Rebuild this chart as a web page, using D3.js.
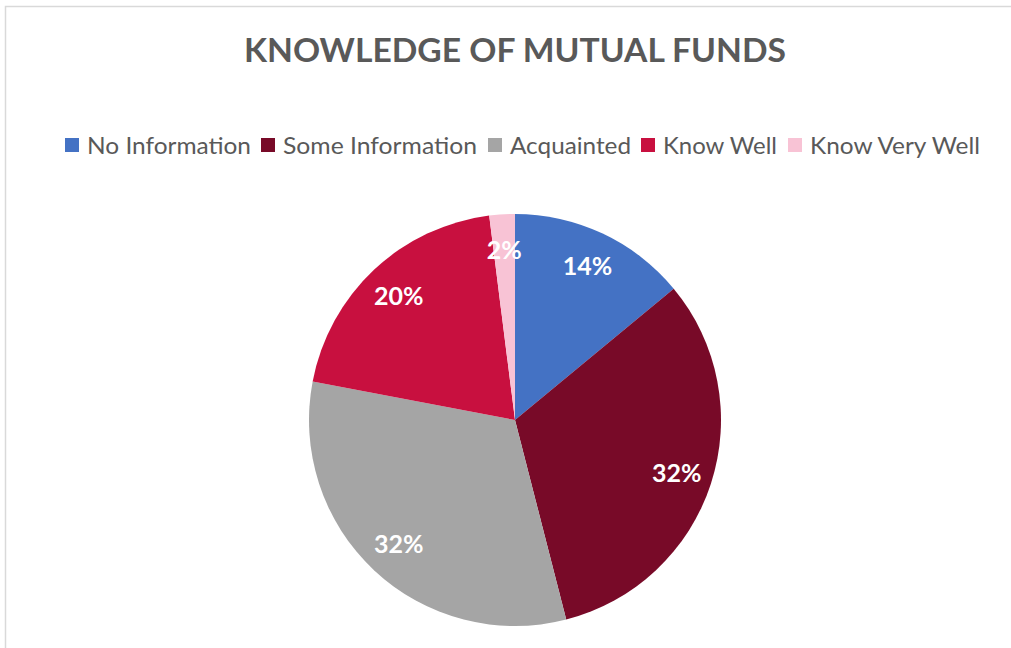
<!DOCTYPE html>
<html><head><meta charset="utf-8">
<script src="https://cdn.jsdelivr.net/npm/d3@7"></script>
<style>body{margin:0;background:#fff;} svg{display:block;}</style>
</head><body>
<script>
const title = "KNOWLEDGE OF MUTUAL FUNDS";
const categories = ["No Information","Some Information","Acquainted","Know Well","Know Very Well"];
const values = [14, 32, 32, 20, 2];
const colors = ["#4472C4","#780A28","#A5A5A5","#C8103F","#F8C3D5"];

const W = 1011, H = 648;
const svg = d3.select("body").append("svg").attr("width", W).attr("height", H);
svg.append("rect").attr("x",5.5).attr("y",6.5).attr("width",W+10).attr("height",H+10)
  .attr("fill","#fff").attr("stroke","#D9D9D9").attr("stroke-width",1.5);

const font = "Lato, 'Open Sans', sans-serif";
svg.append("text").attr("x",515).attr("y",62).attr("text-anchor","middle")
  .attr("font-family",font).attr("font-weight",700).attr("font-size",32)
  .attr("fill","#595959").attr("textLength",542).attr("lengthAdjust","spacingAndGlyphs").text(title);

// legend
const legX = [65, 261, 488, 641, 788];
const legW = [164, 194, 121, 114, 170];
const leg = svg.append("g");
categories.forEach((c,i)=>{
  leg.append("rect").attr("x",legX[i]).attr("y",138).attr("width",14).attr("height",14).attr("fill",colors[i]);
  leg.append("text").attr("x",legX[i]+22).attr("y",154).attr("font-family",font).attr("font-size",23)
    .attr("fill","#595959").attr("textLength",legW[i]).attr("lengthAdjust","spacingAndGlyphs").text(c);
});

const cx = 515, cy = 420, R = 206;
const pie = d3.pie().sort(null).value(d=>d)(values);
const arc = d3.arc().innerRadius(0).outerRadius(R);
const lab = d3.arc().innerRadius(170).outerRadius(170);
const g = svg.append("g").attr("transform",`translate(${cx},${cy})`);
g.selectAll("path").data(pie).join("path").attr("d",arc).attr("fill",(d,i)=>colors[i]);
const total = d3.sum(values);
g.selectAll("text").data(pie).join("text")
  .attr("transform",d=>`translate(${lab.centroid(d)})`)
  .attr("text-anchor","middle").attr("dy","0.36em")
  .attr("font-family",font).attr("font-weight",700).attr("font-size",25).attr("fill","#fff")
  .text(d=>Math.round(d.data/total*100)+"%");
</script>
</body></html>
